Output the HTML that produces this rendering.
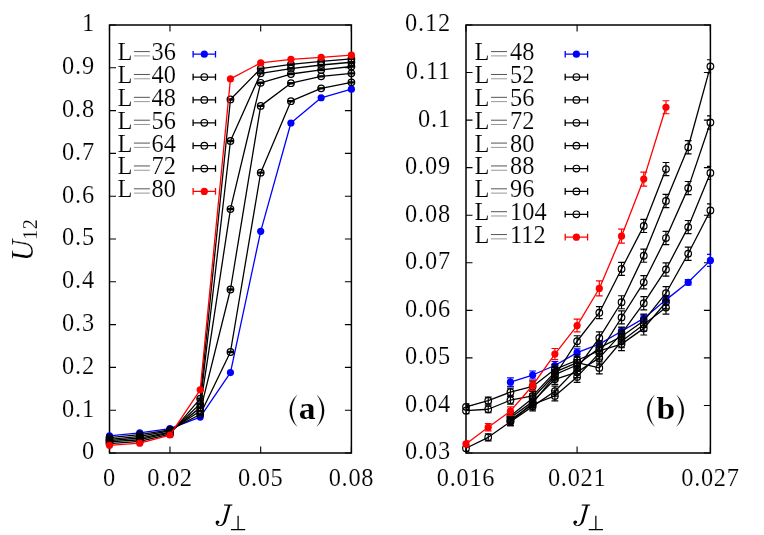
<!DOCTYPE html>
<html><head><meta charset="utf-8"><title>U12 vs J_perp</title>
<style>
html,body{margin:0;padding:0;background:#fff;}
svg{display:block;font-family:"Liberation Serif", serif;fill:#000;will-change:transform;}
text{stroke:#fff;stroke-width:0.15px;}
</style></head>
<body>
<svg width="764" height="535" viewBox="0 0 764 535">
<rect x="0" y="0" width="764" height="535" fill="#fff"/>
<path d="M109.50,453.00v-6.5M109.50,25.00v6.5" stroke="#000" stroke-width="1.1" fill="none"/>
<path d="M169.97,453.00v-6.5M169.97,25.00v6.5" stroke="#000" stroke-width="1.1" fill="none"/>
<path d="M260.69,453.00v-6.5M260.69,25.00v6.5" stroke="#000" stroke-width="1.1" fill="none"/>
<path d="M351.40,453.00v-6.5M351.40,25.00v6.5" stroke="#000" stroke-width="1.1" fill="none"/>
<path d="M109.50,453.00h6.5M351.40,453.00h-6.5" stroke="#000" stroke-width="1.1" fill="none"/>
<path d="M109.50,410.20h6.5M351.40,410.20h-6.5" stroke="#000" stroke-width="1.1" fill="none"/>
<path d="M109.50,367.40h6.5M351.40,367.40h-6.5" stroke="#000" stroke-width="1.1" fill="none"/>
<path d="M109.50,324.60h6.5M351.40,324.60h-6.5" stroke="#000" stroke-width="1.1" fill="none"/>
<path d="M109.50,281.80h6.5M351.40,281.80h-6.5" stroke="#000" stroke-width="1.1" fill="none"/>
<path d="M109.50,239.00h6.5M351.40,239.00h-6.5" stroke="#000" stroke-width="1.1" fill="none"/>
<path d="M109.50,196.20h6.5M351.40,196.20h-6.5" stroke="#000" stroke-width="1.1" fill="none"/>
<path d="M109.50,153.40h6.5M351.40,153.40h-6.5" stroke="#000" stroke-width="1.1" fill="none"/>
<path d="M109.50,110.60h6.5M351.40,110.60h-6.5" stroke="#000" stroke-width="1.1" fill="none"/>
<path d="M109.50,67.80h6.5M351.40,67.80h-6.5" stroke="#000" stroke-width="1.1" fill="none"/>
<path d="M109.50,25.00h6.5M351.40,25.00h-6.5" stroke="#000" stroke-width="1.1" fill="none"/>
<rect x="109.5" y="25.0" width="241.90" height="428.00" fill="none" stroke="#000" stroke-width="1.5"/>
<text x="109.20" y="486" text-anchor="middle" font-size="24.4" letter-spacing="0">0</text>
<text x="170.02" y="486" text-anchor="middle" font-size="24.4" letter-spacing="0.7">0.02</text>
<text x="260.74" y="486" text-anchor="middle" font-size="24.4" letter-spacing="0.7">0.05</text>
<text x="351.45" y="486" text-anchor="middle" font-size="24.4" letter-spacing="0.7">0.08</text>
<text x="94.30" y="459.40" text-anchor="end" font-size="24.4" letter-spacing="0">0</text>
<text x="95.20" y="416.60" text-anchor="end" font-size="24.4" letter-spacing="0.9">0.1</text>
<text x="95.20" y="373.80" text-anchor="end" font-size="24.4" letter-spacing="0.9">0.2</text>
<text x="95.20" y="331.00" text-anchor="end" font-size="24.4" letter-spacing="0.9">0.3</text>
<text x="95.20" y="288.20" text-anchor="end" font-size="24.4" letter-spacing="0.9">0.4</text>
<text x="95.20" y="245.40" text-anchor="end" font-size="24.4" letter-spacing="0.9">0.5</text>
<text x="95.20" y="202.60" text-anchor="end" font-size="24.4" letter-spacing="0.9">0.6</text>
<text x="95.20" y="159.80" text-anchor="end" font-size="24.4" letter-spacing="0.9">0.7</text>
<text x="95.20" y="117.00" text-anchor="end" font-size="24.4" letter-spacing="0.9">0.8</text>
<text x="95.20" y="74.20" text-anchor="end" font-size="24.4" letter-spacing="0.9">0.9</text>
<text x="94.30" y="31.40" text-anchor="end" font-size="24.4" letter-spacing="0">1</text>
<clipPath id="ca"><rect x="104.5" y="25.0" width="251.89999999999998" height="433.0"/></clipPath>
<g clip-path="url(#ca)">
<path d="M109.50,435.88L139.74,432.88L169.97,428.60L200.21,417.05L230.45,372.54L260.69,231.30L290.92,123.01L321.16,97.76L351.40,89.20" stroke="#0000ff" stroke-width="1.3" fill="none" stroke-linejoin="round"/>
<circle cx="109.50" cy="435.88" r="3.5999999999999996" fill="#0000ff"/>
<circle cx="139.74" cy="432.88" r="3.5999999999999996" fill="#0000ff"/>
<circle cx="169.97" cy="428.60" r="3.5999999999999996" fill="#0000ff"/>
<circle cx="200.21" cy="417.05" r="3.5999999999999996" fill="#0000ff"/>
<circle cx="230.45" cy="372.54" r="3.5999999999999996" fill="#0000ff"/>
<circle cx="260.69" cy="231.30" r="3.5999999999999996" fill="#0000ff"/>
<circle cx="290.92" cy="123.01" r="3.5999999999999996" fill="#0000ff"/>
<circle cx="321.16" cy="97.76" r="3.5999999999999996" fill="#0000ff"/>
<circle cx="351.40" cy="89.20" r="3.5999999999999996" fill="#0000ff"/>
<path d="M109.50,437.59L139.74,434.60L169.97,429.89L200.21,414.48L230.45,351.99L260.69,172.66L290.92,101.18L321.16,88.34L351.40,82.35" stroke="#000000" stroke-width="1.3" fill="none" stroke-linejoin="round"/>
<path d="M109.50,436.99V438.19M106.10,436.99h6.8M106.10,438.19h6.8" stroke="#000000" stroke-width="1.2" fill="none"/><circle cx="109.50" cy="437.59" r="3.3" fill="none" stroke="#000000" stroke-width="1.2"/>
<path d="M139.74,434.00V435.20M136.34,434.00h6.8M136.34,435.20h6.8" stroke="#000000" stroke-width="1.2" fill="none"/><circle cx="139.74" cy="434.60" r="3.3" fill="none" stroke="#000000" stroke-width="1.2"/>
<path d="M169.97,429.29V430.49M166.57,429.29h6.8M166.57,430.49h6.8" stroke="#000000" stroke-width="1.2" fill="none"/><circle cx="169.97" cy="429.89" r="3.3" fill="none" stroke="#000000" stroke-width="1.2"/>
<path d="M200.21,413.88V415.08M196.81,413.88h6.8M196.81,415.08h6.8" stroke="#000000" stroke-width="1.2" fill="none"/><circle cx="200.21" cy="414.48" r="3.3" fill="none" stroke="#000000" stroke-width="1.2"/>
<path d="M230.45,351.39V352.59M227.05,351.39h6.8M227.05,352.59h6.8" stroke="#000000" stroke-width="1.2" fill="none"/><circle cx="230.45" cy="351.99" r="3.3" fill="none" stroke="#000000" stroke-width="1.2"/>
<path d="M260.69,172.06V173.26M257.29,172.06h6.8M257.29,173.26h6.8" stroke="#000000" stroke-width="1.2" fill="none"/><circle cx="260.69" cy="172.66" r="3.3" fill="none" stroke="#000000" stroke-width="1.2"/>
<path d="M290.92,100.58V101.78M287.52,100.58h6.8M287.52,101.78h6.8" stroke="#000000" stroke-width="1.2" fill="none"/><circle cx="290.92" cy="101.18" r="3.3" fill="none" stroke="#000000" stroke-width="1.2"/>
<path d="M321.16,87.74V88.94M317.76,87.74h6.8M317.76,88.94h6.8" stroke="#000000" stroke-width="1.2" fill="none"/><circle cx="321.16" cy="88.34" r="3.3" fill="none" stroke="#000000" stroke-width="1.2"/>
<path d="M351.40,81.75V82.95M348.00,81.75h6.8M348.00,82.95h6.8" stroke="#000000" stroke-width="1.2" fill="none"/><circle cx="351.40" cy="82.35" r="3.3" fill="none" stroke="#000000" stroke-width="1.2"/>
<path d="M109.50,439.30L139.74,436.31L169.97,430.74L200.21,411.06L230.45,289.50L260.69,105.89L290.92,83.21L321.16,76.36L351.40,73.36" stroke="#000000" stroke-width="1.3" fill="none" stroke-linejoin="round"/>
<path d="M109.50,438.70V439.90M106.10,438.70h6.8M106.10,439.90h6.8" stroke="#000000" stroke-width="1.2" fill="none"/><circle cx="109.50" cy="439.30" r="3.3" fill="none" stroke="#000000" stroke-width="1.2"/>
<path d="M139.74,435.71V436.91M136.34,435.71h6.8M136.34,436.91h6.8" stroke="#000000" stroke-width="1.2" fill="none"/><circle cx="139.74" cy="436.31" r="3.3" fill="none" stroke="#000000" stroke-width="1.2"/>
<path d="M169.97,430.14V431.34M166.57,430.14h6.8M166.57,431.34h6.8" stroke="#000000" stroke-width="1.2" fill="none"/><circle cx="169.97" cy="430.74" r="3.3" fill="none" stroke="#000000" stroke-width="1.2"/>
<path d="M200.21,410.46V411.66M196.81,410.46h6.8M196.81,411.66h6.8" stroke="#000000" stroke-width="1.2" fill="none"/><circle cx="200.21" cy="411.06" r="3.3" fill="none" stroke="#000000" stroke-width="1.2"/>
<path d="M230.45,288.90V290.10M227.05,288.90h6.8M227.05,290.10h6.8" stroke="#000000" stroke-width="1.2" fill="none"/><circle cx="230.45" cy="289.50" r="3.3" fill="none" stroke="#000000" stroke-width="1.2"/>
<path d="M260.69,105.29V106.49M257.29,105.29h6.8M257.29,106.49h6.8" stroke="#000000" stroke-width="1.2" fill="none"/><circle cx="260.69" cy="105.89" r="3.3" fill="none" stroke="#000000" stroke-width="1.2"/>
<path d="M290.92,82.61V83.81M287.52,82.61h6.8M287.52,83.81h6.8" stroke="#000000" stroke-width="1.2" fill="none"/><circle cx="290.92" cy="83.21" r="3.3" fill="none" stroke="#000000" stroke-width="1.2"/>
<path d="M321.16,75.76V76.96M317.76,75.76h6.8M317.76,76.96h6.8" stroke="#000000" stroke-width="1.2" fill="none"/><circle cx="321.16" cy="76.36" r="3.3" fill="none" stroke="#000000" stroke-width="1.2"/>
<path d="M351.40,72.76V73.96M348.00,72.76h6.8M348.00,73.96h6.8" stroke="#000000" stroke-width="1.2" fill="none"/><circle cx="351.40" cy="73.36" r="3.3" fill="none" stroke="#000000" stroke-width="1.2"/>
<path d="M109.50,440.59L139.74,438.02L169.97,432.03L200.21,407.63L230.45,209.04L260.69,82.78L290.92,74.01L321.16,69.94L351.40,66.52" stroke="#000000" stroke-width="1.3" fill="none" stroke-linejoin="round"/>
<path d="M109.50,439.99V441.19M106.10,439.99h6.8M106.10,441.19h6.8" stroke="#000000" stroke-width="1.2" fill="none"/><circle cx="109.50" cy="440.59" r="3.3" fill="none" stroke="#000000" stroke-width="1.2"/>
<path d="M139.74,437.42V438.62M136.34,437.42h6.8M136.34,438.62h6.8" stroke="#000000" stroke-width="1.2" fill="none"/><circle cx="139.74" cy="438.02" r="3.3" fill="none" stroke="#000000" stroke-width="1.2"/>
<path d="M169.97,431.43V432.63M166.57,431.43h6.8M166.57,432.63h6.8" stroke="#000000" stroke-width="1.2" fill="none"/><circle cx="169.97" cy="432.03" r="3.3" fill="none" stroke="#000000" stroke-width="1.2"/>
<path d="M200.21,407.03V408.23M196.81,407.03h6.8M196.81,408.23h6.8" stroke="#000000" stroke-width="1.2" fill="none"/><circle cx="200.21" cy="407.63" r="3.3" fill="none" stroke="#000000" stroke-width="1.2"/>
<path d="M230.45,208.44V209.64M227.05,208.44h6.8M227.05,209.64h6.8" stroke="#000000" stroke-width="1.2" fill="none"/><circle cx="230.45" cy="209.04" r="3.3" fill="none" stroke="#000000" stroke-width="1.2"/>
<path d="M260.69,82.18V83.38M257.29,82.18h6.8M257.29,83.38h6.8" stroke="#000000" stroke-width="1.2" fill="none"/><circle cx="260.69" cy="82.78" r="3.3" fill="none" stroke="#000000" stroke-width="1.2"/>
<path d="M290.92,73.41V74.61M287.52,73.41h6.8M287.52,74.61h6.8" stroke="#000000" stroke-width="1.2" fill="none"/><circle cx="290.92" cy="74.01" r="3.3" fill="none" stroke="#000000" stroke-width="1.2"/>
<path d="M321.16,69.34V70.54M317.76,69.34h6.8M317.76,70.54h6.8" stroke="#000000" stroke-width="1.2" fill="none"/><circle cx="321.16" cy="69.94" r="3.3" fill="none" stroke="#000000" stroke-width="1.2"/>
<path d="M351.40,65.92V67.12M348.00,65.92h6.8M348.00,67.12h6.8" stroke="#000000" stroke-width="1.2" fill="none"/><circle cx="351.40" cy="66.52" r="3.3" fill="none" stroke="#000000" stroke-width="1.2"/>
<path d="M109.50,441.87L139.74,439.73L169.97,432.88L200.21,403.78L230.45,140.99L260.69,73.36L290.92,68.66L321.16,65.02L351.40,62.24" stroke="#000000" stroke-width="1.3" fill="none" stroke-linejoin="round"/>
<path d="M109.50,441.27V442.47M106.10,441.27h6.8M106.10,442.47h6.8" stroke="#000000" stroke-width="1.2" fill="none"/><circle cx="109.50" cy="441.87" r="3.3" fill="none" stroke="#000000" stroke-width="1.2"/>
<path d="M139.74,439.13V440.33M136.34,439.13h6.8M136.34,440.33h6.8" stroke="#000000" stroke-width="1.2" fill="none"/><circle cx="139.74" cy="439.73" r="3.3" fill="none" stroke="#000000" stroke-width="1.2"/>
<path d="M169.97,432.28V433.48M166.57,432.28h6.8M166.57,433.48h6.8" stroke="#000000" stroke-width="1.2" fill="none"/><circle cx="169.97" cy="432.88" r="3.3" fill="none" stroke="#000000" stroke-width="1.2"/>
<path d="M200.21,403.18V404.38M196.81,403.18h6.8M196.81,404.38h6.8" stroke="#000000" stroke-width="1.2" fill="none"/><circle cx="200.21" cy="403.78" r="3.3" fill="none" stroke="#000000" stroke-width="1.2"/>
<path d="M230.45,140.39V141.59M227.05,140.39h6.8M227.05,141.59h6.8" stroke="#000000" stroke-width="1.2" fill="none"/><circle cx="230.45" cy="140.99" r="3.3" fill="none" stroke="#000000" stroke-width="1.2"/>
<path d="M260.69,72.76V73.96M257.29,72.76h6.8M257.29,73.96h6.8" stroke="#000000" stroke-width="1.2" fill="none"/><circle cx="260.69" cy="73.36" r="3.3" fill="none" stroke="#000000" stroke-width="1.2"/>
<path d="M290.92,68.06V69.26M287.52,68.06h6.8M287.52,69.26h6.8" stroke="#000000" stroke-width="1.2" fill="none"/><circle cx="290.92" cy="68.66" r="3.3" fill="none" stroke="#000000" stroke-width="1.2"/>
<path d="M321.16,64.42V65.62M317.76,64.42h6.8M317.76,65.62h6.8" stroke="#000000" stroke-width="1.2" fill="none"/><circle cx="321.16" cy="65.02" r="3.3" fill="none" stroke="#000000" stroke-width="1.2"/>
<path d="M351.40,61.64V62.84M348.00,61.64h6.8M348.00,62.84h6.8" stroke="#000000" stroke-width="1.2" fill="none"/><circle cx="351.40" cy="62.24" r="3.3" fill="none" stroke="#000000" stroke-width="1.2"/>
<path d="M109.50,443.58L139.74,441.44L169.97,434.17L200.21,398.64L230.45,99.47L260.69,68.66L290.92,64.38L321.16,61.38L351.40,58.81" stroke="#000000" stroke-width="1.3" fill="none" stroke-linejoin="round"/>
<path d="M109.50,442.98V444.18M106.10,442.98h6.8M106.10,444.18h6.8" stroke="#000000" stroke-width="1.2" fill="none"/><circle cx="109.50" cy="443.58" r="3.3" fill="none" stroke="#000000" stroke-width="1.2"/>
<path d="M139.74,440.84V442.04M136.34,440.84h6.8M136.34,442.04h6.8" stroke="#000000" stroke-width="1.2" fill="none"/><circle cx="139.74" cy="441.44" r="3.3" fill="none" stroke="#000000" stroke-width="1.2"/>
<path d="M169.97,433.57V434.77M166.57,433.57h6.8M166.57,434.77h6.8" stroke="#000000" stroke-width="1.2" fill="none"/><circle cx="169.97" cy="434.17" r="3.3" fill="none" stroke="#000000" stroke-width="1.2"/>
<path d="M200.21,398.04V399.24M196.81,398.04h6.8M196.81,399.24h6.8" stroke="#000000" stroke-width="1.2" fill="none"/><circle cx="200.21" cy="398.64" r="3.3" fill="none" stroke="#000000" stroke-width="1.2"/>
<path d="M230.45,98.87V100.07M227.05,98.87h6.8M227.05,100.07h6.8" stroke="#000000" stroke-width="1.2" fill="none"/><circle cx="230.45" cy="99.47" r="3.3" fill="none" stroke="#000000" stroke-width="1.2"/>
<path d="M260.69,68.06V69.26M257.29,68.06h6.8M257.29,69.26h6.8" stroke="#000000" stroke-width="1.2" fill="none"/><circle cx="260.69" cy="68.66" r="3.3" fill="none" stroke="#000000" stroke-width="1.2"/>
<path d="M290.92,63.78V64.98M287.52,63.78h6.8M287.52,64.98h6.8" stroke="#000000" stroke-width="1.2" fill="none"/><circle cx="290.92" cy="64.38" r="3.3" fill="none" stroke="#000000" stroke-width="1.2"/>
<path d="M321.16,60.78V61.98M317.76,60.78h6.8M317.76,61.98h6.8" stroke="#000000" stroke-width="1.2" fill="none"/><circle cx="321.16" cy="61.38" r="3.3" fill="none" stroke="#000000" stroke-width="1.2"/>
<path d="M351.40,58.21V59.41M348.00,58.21h6.8M348.00,59.41h6.8" stroke="#000000" stroke-width="1.2" fill="none"/><circle cx="351.40" cy="58.81" r="3.3" fill="none" stroke="#000000" stroke-width="1.2"/>
<path d="M109.50,445.30L139.74,443.16L169.97,435.02L200.21,389.87L230.45,78.93L260.69,62.88L290.92,59.37L321.16,57.31L351.40,55.17" stroke="#ff0000" stroke-width="1.3" fill="none" stroke-linejoin="round"/>
<circle cx="109.50" cy="445.30" r="3.5999999999999996" fill="#ff0000"/>
<circle cx="139.74" cy="443.16" r="3.5999999999999996" fill="#ff0000"/>
<circle cx="169.97" cy="435.02" r="3.5999999999999996" fill="#ff0000"/>
<circle cx="200.21" cy="389.87" r="3.5999999999999996" fill="#ff0000"/>
<circle cx="230.45" cy="78.93" r="3.5999999999999996" fill="#ff0000"/>
<circle cx="260.69" cy="62.88" r="3.5999999999999996" fill="#ff0000"/>
<circle cx="290.92" cy="59.37" r="3.5999999999999996" fill="#ff0000"/>
<circle cx="321.16" cy="57.31" r="3.5999999999999996" fill="#ff0000"/>
<circle cx="351.40" cy="55.17" r="3.5999999999999996" fill="#ff0000"/>
</g>
<text x="117.50" y="60.10" font-size="24.4">L</text>
<path d="M133.90,51.60H149.90" stroke="#000" stroke-opacity="0.75" stroke-width="0.9"/>
<path d="M133.90,55.90H149.90" stroke="#000" stroke-opacity="0.45" stroke-width="0.9"/>
<text x="151.60" y="60.10" font-size="24.4">36</text>
<path d="M193.10,54.20H215.50M193.10,50.90v6.6M215.50,50.90v6.6" stroke="#0000ff" stroke-width="1.3" fill="none"/>
<circle cx="204.30" cy="54.20" r="3.5999999999999996" fill="#0000ff"/>
<text x="117.50" y="82.97" font-size="24.4">L</text>
<path d="M133.90,74.47H149.90" stroke="#000" stroke-opacity="0.75" stroke-width="0.9"/>
<path d="M133.90,78.77H149.90" stroke="#000" stroke-opacity="0.45" stroke-width="0.9"/>
<text x="151.60" y="82.97" font-size="24.4">40</text>
<path d="M193.10,77.07H215.50M193.10,73.77v6.6M215.50,73.77v6.6" stroke="#000000" stroke-width="1.3" fill="none"/>
<circle cx="204.30" cy="77.07" r="3.3" fill="#fff" stroke="#000000" stroke-width="1.2"/>
<path d="M201.00,77.07h6.6" stroke="#000000" stroke-width="1.2"/>
<text x="117.50" y="105.84" font-size="24.4">L</text>
<path d="M133.90,97.34H149.90" stroke="#000" stroke-opacity="0.75" stroke-width="0.9"/>
<path d="M133.90,101.64H149.90" stroke="#000" stroke-opacity="0.45" stroke-width="0.9"/>
<text x="151.60" y="105.84" font-size="24.4">48</text>
<path d="M193.10,99.94H215.50M193.10,96.64v6.6M215.50,96.64v6.6" stroke="#000000" stroke-width="1.3" fill="none"/>
<circle cx="204.30" cy="99.94" r="3.3" fill="#fff" stroke="#000000" stroke-width="1.2"/>
<path d="M201.00,99.94h6.6" stroke="#000000" stroke-width="1.2"/>
<text x="117.50" y="128.71" font-size="24.4">L</text>
<path d="M133.90,120.21H149.90" stroke="#000" stroke-opacity="0.75" stroke-width="0.9"/>
<path d="M133.90,124.51H149.90" stroke="#000" stroke-opacity="0.45" stroke-width="0.9"/>
<text x="151.60" y="128.71" font-size="24.4">56</text>
<path d="M193.10,122.81H215.50M193.10,119.51v6.6M215.50,119.51v6.6" stroke="#000000" stroke-width="1.3" fill="none"/>
<circle cx="204.30" cy="122.81" r="3.3" fill="#fff" stroke="#000000" stroke-width="1.2"/>
<path d="M201.00,122.81h6.6" stroke="#000000" stroke-width="1.2"/>
<text x="117.50" y="151.58" font-size="24.4">L</text>
<path d="M133.90,143.08H149.90" stroke="#000" stroke-opacity="0.75" stroke-width="0.9"/>
<path d="M133.90,147.38H149.90" stroke="#000" stroke-opacity="0.45" stroke-width="0.9"/>
<text x="151.60" y="151.58" font-size="24.4">64</text>
<path d="M193.10,145.68H215.50M193.10,142.38v6.6M215.50,142.38v6.6" stroke="#000000" stroke-width="1.3" fill="none"/>
<circle cx="204.30" cy="145.68" r="3.3" fill="#fff" stroke="#000000" stroke-width="1.2"/>
<path d="M201.00,145.68h6.6" stroke="#000000" stroke-width="1.2"/>
<text x="117.50" y="174.45" font-size="24.4">L</text>
<path d="M133.90,165.95H149.90" stroke="#000" stroke-opacity="0.75" stroke-width="0.9"/>
<path d="M133.90,170.25H149.90" stroke="#000" stroke-opacity="0.45" stroke-width="0.9"/>
<text x="151.60" y="174.45" font-size="24.4">72</text>
<path d="M193.10,168.55H215.50M193.10,165.25v6.6M215.50,165.25v6.6" stroke="#000000" stroke-width="1.3" fill="none"/>
<circle cx="204.30" cy="168.55" r="3.3" fill="#fff" stroke="#000000" stroke-width="1.2"/>
<path d="M201.00,168.55h6.6" stroke="#000000" stroke-width="1.2"/>
<text x="117.50" y="197.32" font-size="24.4">L</text>
<path d="M133.90,188.82H149.90" stroke="#000" stroke-opacity="0.75" stroke-width="0.9"/>
<path d="M133.90,193.12H149.90" stroke="#000" stroke-opacity="0.45" stroke-width="0.9"/>
<text x="151.60" y="197.32" font-size="24.4">80</text>
<path d="M193.10,191.42H215.50M193.10,188.12v6.6M215.50,188.12v6.6" stroke="#ff0000" stroke-width="1.3" fill="none"/>
<circle cx="204.30" cy="191.42" r="3.5999999999999996" fill="#ff0000"/>
<path d="M466.00,453.00v-6.5M466.00,25.00v6.5" stroke="#000" stroke-width="1.1" fill="none"/>
<path d="M577.09,453.00v-6.5M577.09,25.00v6.5" stroke="#000" stroke-width="1.1" fill="none"/>
<path d="M710.40,453.00v-6.5M710.40,25.00v6.5" stroke="#000" stroke-width="1.1" fill="none"/>
<path d="M466.00,453.00h6.5M710.40,453.00h-6.5" stroke="#000" stroke-width="1.1" fill="none"/>
<path d="M466.00,405.44h6.5M710.40,405.44h-6.5" stroke="#000" stroke-width="1.1" fill="none"/>
<path d="M466.00,357.89h6.5M710.40,357.89h-6.5" stroke="#000" stroke-width="1.1" fill="none"/>
<path d="M466.00,310.33h6.5M710.40,310.33h-6.5" stroke="#000" stroke-width="1.1" fill="none"/>
<path d="M466.00,262.78h6.5M710.40,262.78h-6.5" stroke="#000" stroke-width="1.1" fill="none"/>
<path d="M466.00,215.22h6.5M710.40,215.22h-6.5" stroke="#000" stroke-width="1.1" fill="none"/>
<path d="M466.00,167.67h6.5M710.40,167.67h-6.5" stroke="#000" stroke-width="1.1" fill="none"/>
<path d="M466.00,120.11h6.5M710.40,120.11h-6.5" stroke="#000" stroke-width="1.1" fill="none"/>
<path d="M466.00,72.56h6.5M710.40,72.56h-6.5" stroke="#000" stroke-width="1.1" fill="none"/>
<path d="M466.00,25.00h6.5M710.40,25.00h-6.5" stroke="#000" stroke-width="1.1" fill="none"/>
<rect x="466.0" y="25.0" width="244.40" height="428.00" fill="none" stroke="#000" stroke-width="1.5"/>
<text x="466.05" y="486" text-anchor="middle" font-size="24.4" letter-spacing="0.7">0.016</text>
<text x="577.14" y="486" text-anchor="middle" font-size="24.4" letter-spacing="0.7">0.021</text>
<text x="710.45" y="486" text-anchor="middle" font-size="24.4" letter-spacing="0.7">0.027</text>
<text x="451.20" y="459.40" text-anchor="end" font-size="24.4" letter-spacing="0.9">0.03</text>
<text x="451.20" y="411.84" text-anchor="end" font-size="24.4" letter-spacing="0.9">0.04</text>
<text x="451.20" y="364.29" text-anchor="end" font-size="24.4" letter-spacing="0.9">0.05</text>
<text x="451.20" y="316.73" text-anchor="end" font-size="24.4" letter-spacing="0.9">0.06</text>
<text x="451.20" y="269.18" text-anchor="end" font-size="24.4" letter-spacing="0.9">0.07</text>
<text x="451.20" y="221.62" text-anchor="end" font-size="24.4" letter-spacing="0.9">0.08</text>
<text x="451.20" y="174.07" text-anchor="end" font-size="24.4" letter-spacing="0.9">0.09</text>
<text x="451.20" y="126.51" text-anchor="end" font-size="24.4" letter-spacing="0.9">0.1</text>
<text x="451.20" y="78.96" text-anchor="end" font-size="24.4" letter-spacing="0.9">0.11</text>
<text x="451.20" y="31.40" text-anchor="end" font-size="24.4" letter-spacing="0.9">0.12</text>
<clipPath id="cb"><rect x="466.0" y="25.0" width="245.15" height="428.0"/></clipPath>
<path d="M510.44,382.14L532.65,375.01L554.87,365.50L577.09,352.66L599.31,344.10L621.53,331.26L643.75,318.42L665.96,299.87L688.18,282.28L710.40,260.40" stroke="#0000ff" stroke-width="1.3" fill="none" stroke-linejoin="round"/>
<path d="M510.44,377.94V386.34M507.04,377.94h6.8M507.04,386.34h6.8" stroke="#0000ff" stroke-width="1.2" fill="none" clip-path="url(#cb)"/><circle cx="510.44" cy="382.14" r="3.5999999999999996" fill="#0000ff"/>
<path d="M532.65,371.01V379.01M529.25,371.01h6.8M529.25,379.01h6.8" stroke="#0000ff" stroke-width="1.2" fill="none" clip-path="url(#cb)"/><circle cx="532.65" cy="375.01" r="3.5999999999999996" fill="#0000ff"/>
<path d="M554.87,361.50V369.50M551.47,361.50h6.8M551.47,369.50h6.8" stroke="#0000ff" stroke-width="1.2" fill="none" clip-path="url(#cb)"/><circle cx="554.87" cy="365.50" r="3.5999999999999996" fill="#0000ff"/>
<path d="M577.09,348.86V356.46M573.69,348.86h6.8M573.69,356.46h6.8" stroke="#0000ff" stroke-width="1.2" fill="none" clip-path="url(#cb)"/><circle cx="577.09" cy="352.66" r="3.5999999999999996" fill="#0000ff"/>
<path d="M599.31,340.50V347.70M595.91,340.50h6.8M595.91,347.70h6.8" stroke="#0000ff" stroke-width="1.2" fill="none" clip-path="url(#cb)"/><circle cx="599.31" cy="344.10" r="3.5999999999999996" fill="#0000ff"/>
<path d="M621.53,327.86V334.66M618.13,327.86h6.8M618.13,334.66h6.8" stroke="#0000ff" stroke-width="1.2" fill="none" clip-path="url(#cb)"/><circle cx="621.53" cy="331.26" r="3.5999999999999996" fill="#0000ff"/>
<path d="M643.75,315.22V321.62M640.35,315.22h6.8M640.35,321.62h6.8" stroke="#0000ff" stroke-width="1.2" fill="none" clip-path="url(#cb)"/><circle cx="643.75" cy="318.42" r="3.5999999999999996" fill="#0000ff"/>
<path d="M665.96,296.87V302.87M662.56,296.87h6.8M662.56,302.87h6.8" stroke="#0000ff" stroke-width="1.2" fill="none" clip-path="url(#cb)"/><circle cx="665.96" cy="299.87" r="3.5999999999999996" fill="#0000ff"/>
<path d="M688.18,279.68V284.88M684.78,279.68h6.8M684.78,284.88h6.8" stroke="#0000ff" stroke-width="1.2" fill="none" clip-path="url(#cb)"/><circle cx="688.18" cy="282.28" r="3.5999999999999996" fill="#0000ff"/>
<path d="M710.40,254.40V266.40M707.00,254.40h6.8M707.00,266.40h6.8" stroke="#0000ff" stroke-width="1.2" fill="none" clip-path="url(#cb)"/><circle cx="710.40" cy="260.40" r="3.5999999999999996" fill="#0000ff"/>
<path d="M466.00,406.87L488.22,400.69L510.44,392.13L532.65,386.42L554.87,369.30L577.09,360.27L599.31,350.76L621.53,344.10L643.75,328.40L665.96,302.25" stroke="#000000" stroke-width="1.3" fill="none" stroke-linejoin="round"/>
<path d="M466.00,403.87V409.87M462.60,403.87h6.8M462.60,409.87h6.8" stroke="#000000" stroke-width="1.2" fill="none" clip-path="url(#cb)"/><circle cx="466.00" cy="406.87" r="3.3" fill="none" stroke="#000000" stroke-width="1.2"/>
<path d="M488.22,397.19V404.19M484.82,397.19h6.8M484.82,404.19h6.8" stroke="#000000" stroke-width="1.2" fill="none" clip-path="url(#cb)"/><circle cx="488.22" cy="400.69" r="3.3" fill="none" stroke="#000000" stroke-width="1.2"/>
<path d="M510.44,388.13V396.13M507.04,388.13h6.8M507.04,396.13h6.8" stroke="#000000" stroke-width="1.2" fill="none" clip-path="url(#cb)"/><circle cx="510.44" cy="392.13" r="3.3" fill="none" stroke="#000000" stroke-width="1.2"/>
<path d="M532.65,381.92V390.92M529.25,381.92h6.8M529.25,390.92h6.8" stroke="#000000" stroke-width="1.2" fill="none" clip-path="url(#cb)"/><circle cx="532.65" cy="386.42" r="3.3" fill="none" stroke="#000000" stroke-width="1.2"/>
<path d="M554.87,364.30V374.30M551.47,364.30h6.8M551.47,374.30h6.8" stroke="#000000" stroke-width="1.2" fill="none" clip-path="url(#cb)"/><circle cx="554.87" cy="369.30" r="3.3" fill="none" stroke="#000000" stroke-width="1.2"/>
<path d="M577.09,354.77V365.77M573.69,354.77h6.8M573.69,365.77h6.8" stroke="#000000" stroke-width="1.2" fill="none" clip-path="url(#cb)"/><circle cx="577.09" cy="360.27" r="3.3" fill="none" stroke="#000000" stroke-width="1.2"/>
<path d="M599.31,344.76V356.76M595.91,344.76h6.8M595.91,356.76h6.8" stroke="#000000" stroke-width="1.2" fill="none" clip-path="url(#cb)"/><circle cx="599.31" cy="350.76" r="3.3" fill="none" stroke="#000000" stroke-width="1.2"/>
<path d="M621.53,337.60V350.60M618.13,337.60h6.8M618.13,350.60h6.8" stroke="#000000" stroke-width="1.2" fill="none" clip-path="url(#cb)"/><circle cx="621.53" cy="344.10" r="3.3" fill="none" stroke="#000000" stroke-width="1.2"/>
<path d="M643.75,321.80V335.00M640.35,321.80h6.8M640.35,335.00h6.8" stroke="#000000" stroke-width="1.2" fill="none" clip-path="url(#cb)"/><circle cx="643.75" cy="328.40" r="3.3" fill="none" stroke="#000000" stroke-width="1.2"/>
<path d="M665.96,295.65V308.85M662.56,295.65h6.8M662.56,308.85h6.8" stroke="#000000" stroke-width="1.2" fill="none" clip-path="url(#cb)"/><circle cx="665.96" cy="302.25" r="3.3" fill="none" stroke="#000000" stroke-width="1.2"/>
<path d="M466.00,410.68L488.22,409.25L510.44,400.21L532.65,395.93L554.87,372.16L577.09,362.64L599.31,367.88L621.53,341.24L643.75,324.60L665.96,307.48" stroke="#000000" stroke-width="1.3" fill="none" stroke-linejoin="round"/>
<path d="M466.00,407.68V413.68M462.60,407.68h6.8M462.60,413.68h6.8" stroke="#000000" stroke-width="1.2" fill="none" clip-path="url(#cb)"/><circle cx="466.00" cy="410.68" r="3.3" fill="none" stroke="#000000" stroke-width="1.2"/>
<path d="M488.22,405.75V412.75M484.82,405.75h6.8M484.82,412.75h6.8" stroke="#000000" stroke-width="1.2" fill="none" clip-path="url(#cb)"/><circle cx="488.22" cy="409.25" r="3.3" fill="none" stroke="#000000" stroke-width="1.2"/>
<path d="M510.44,396.21V404.21M507.04,396.21h6.8M507.04,404.21h6.8" stroke="#000000" stroke-width="1.2" fill="none" clip-path="url(#cb)"/><circle cx="510.44" cy="400.21" r="3.3" fill="none" stroke="#000000" stroke-width="1.2"/>
<path d="M532.65,391.43V400.43M529.25,391.43h6.8M529.25,400.43h6.8" stroke="#000000" stroke-width="1.2" fill="none" clip-path="url(#cb)"/><circle cx="532.65" cy="395.93" r="3.3" fill="none" stroke="#000000" stroke-width="1.2"/>
<path d="M554.87,367.16V377.16M551.47,367.16h6.8M551.47,377.16h6.8" stroke="#000000" stroke-width="1.2" fill="none" clip-path="url(#cb)"/><circle cx="554.87" cy="372.16" r="3.3" fill="none" stroke="#000000" stroke-width="1.2"/>
<path d="M577.09,357.14V368.14M573.69,357.14h6.8M573.69,368.14h6.8" stroke="#000000" stroke-width="1.2" fill="none" clip-path="url(#cb)"/><circle cx="577.09" cy="362.64" r="3.3" fill="none" stroke="#000000" stroke-width="1.2"/>
<path d="M599.31,361.88V373.88M595.91,361.88h6.8M595.91,373.88h6.8" stroke="#000000" stroke-width="1.2" fill="none" clip-path="url(#cb)"/><circle cx="599.31" cy="367.88" r="3.3" fill="none" stroke="#000000" stroke-width="1.2"/>
<path d="M621.53,334.74V347.74M618.13,334.74h6.8M618.13,347.74h6.8" stroke="#000000" stroke-width="1.2" fill="none" clip-path="url(#cb)"/><circle cx="621.53" cy="341.24" r="3.3" fill="none" stroke="#000000" stroke-width="1.2"/>
<path d="M643.75,318.00V331.20M640.35,318.00h6.8M640.35,331.20h6.8" stroke="#000000" stroke-width="1.2" fill="none" clip-path="url(#cb)"/><circle cx="643.75" cy="324.60" r="3.3" fill="none" stroke="#000000" stroke-width="1.2"/>
<path d="M665.96,300.88V314.08M662.56,300.88h6.8M662.56,314.08h6.8" stroke="#000000" stroke-width="1.2" fill="none" clip-path="url(#cb)"/><circle cx="665.96" cy="307.48" r="3.3" fill="none" stroke="#000000" stroke-width="1.2"/>
<path d="M510.44,415.91L532.65,398.31L554.87,374.53L577.09,365.02L599.31,347.90L621.53,336.49L643.75,320.80L665.96,293.21L688.18,253.74L710.40,210.47" stroke="#000000" stroke-width="1.3" fill="none" stroke-linejoin="round"/>
<path d="M510.44,411.91V419.91M507.04,411.91h6.8M507.04,419.91h6.8" stroke="#000000" stroke-width="1.2" fill="none" clip-path="url(#cb)"/><circle cx="510.44" cy="415.91" r="3.3" fill="none" stroke="#000000" stroke-width="1.2"/>
<path d="M532.65,393.81V402.81M529.25,393.81h6.8M529.25,402.81h6.8" stroke="#000000" stroke-width="1.2" fill="none" clip-path="url(#cb)"/><circle cx="532.65" cy="398.31" r="3.3" fill="none" stroke="#000000" stroke-width="1.2"/>
<path d="M554.87,369.53V379.53M551.47,369.53h6.8M551.47,379.53h6.8" stroke="#000000" stroke-width="1.2" fill="none" clip-path="url(#cb)"/><circle cx="554.87" cy="374.53" r="3.3" fill="none" stroke="#000000" stroke-width="1.2"/>
<path d="M577.09,359.52V370.52M573.69,359.52h6.8M573.69,370.52h6.8" stroke="#000000" stroke-width="1.2" fill="none" clip-path="url(#cb)"/><circle cx="577.09" cy="365.02" r="3.3" fill="none" stroke="#000000" stroke-width="1.2"/>
<path d="M599.31,341.90V353.90M595.91,341.90h6.8M595.91,353.90h6.8" stroke="#000000" stroke-width="1.2" fill="none" clip-path="url(#cb)"/><circle cx="599.31" cy="347.90" r="3.3" fill="none" stroke="#000000" stroke-width="1.2"/>
<path d="M621.53,329.99V342.99M618.13,329.99h6.8M618.13,342.99h6.8" stroke="#000000" stroke-width="1.2" fill="none" clip-path="url(#cb)"/><circle cx="621.53" cy="336.49" r="3.3" fill="none" stroke="#000000" stroke-width="1.2"/>
<path d="M643.75,314.20V327.40M640.35,314.20h6.8M640.35,327.40h6.8" stroke="#000000" stroke-width="1.2" fill="none" clip-path="url(#cb)"/><circle cx="643.75" cy="320.80" r="3.3" fill="none" stroke="#000000" stroke-width="1.2"/>
<path d="M665.96,286.61V299.81M662.56,286.61h6.8M662.56,299.81h6.8" stroke="#000000" stroke-width="1.2" fill="none" clip-path="url(#cb)"/><circle cx="665.96" cy="293.21" r="3.3" fill="none" stroke="#000000" stroke-width="1.2"/>
<path d="M688.18,247.14V260.34M684.78,247.14h6.8M684.78,260.34h6.8" stroke="#000000" stroke-width="1.2" fill="none" clip-path="url(#cb)"/><circle cx="688.18" cy="253.74" r="3.3" fill="none" stroke="#000000" stroke-width="1.2"/>
<path d="M710.40,203.87V217.07M707.00,203.87h6.8M707.00,217.07h6.8" stroke="#000000" stroke-width="1.2" fill="none" clip-path="url(#cb)"/><circle cx="710.40" cy="210.47" r="3.3" fill="none" stroke="#000000" stroke-width="1.2"/>
<path d="M510.44,417.81L532.65,401.64L554.87,379.29L577.09,372.16L599.31,357.89L621.53,333.64L643.75,303.20L665.96,269.44L688.18,227.11L710.40,172.90" stroke="#000000" stroke-width="1.3" fill="none" stroke-linejoin="round"/>
<path d="M510.44,413.81V421.81M507.04,413.81h6.8M507.04,421.81h6.8" stroke="#000000" stroke-width="1.2" fill="none" clip-path="url(#cb)"/><circle cx="510.44" cy="417.81" r="3.3" fill="none" stroke="#000000" stroke-width="1.2"/>
<path d="M532.65,397.14V406.14M529.25,397.14h6.8M529.25,406.14h6.8" stroke="#000000" stroke-width="1.2" fill="none" clip-path="url(#cb)"/><circle cx="532.65" cy="401.64" r="3.3" fill="none" stroke="#000000" stroke-width="1.2"/>
<path d="M554.87,374.29V384.29M551.47,374.29h6.8M551.47,384.29h6.8" stroke="#000000" stroke-width="1.2" fill="none" clip-path="url(#cb)"/><circle cx="554.87" cy="379.29" r="3.3" fill="none" stroke="#000000" stroke-width="1.2"/>
<path d="M577.09,366.66V377.66M573.69,366.66h6.8M573.69,377.66h6.8" stroke="#000000" stroke-width="1.2" fill="none" clip-path="url(#cb)"/><circle cx="577.09" cy="372.16" r="3.3" fill="none" stroke="#000000" stroke-width="1.2"/>
<path d="M599.31,351.89V363.89M595.91,351.89h6.8M595.91,363.89h6.8" stroke="#000000" stroke-width="1.2" fill="none" clip-path="url(#cb)"/><circle cx="599.31" cy="357.89" r="3.3" fill="none" stroke="#000000" stroke-width="1.2"/>
<path d="M621.53,327.14V340.14M618.13,327.14h6.8M618.13,340.14h6.8" stroke="#000000" stroke-width="1.2" fill="none" clip-path="url(#cb)"/><circle cx="621.53" cy="333.64" r="3.3" fill="none" stroke="#000000" stroke-width="1.2"/>
<path d="M643.75,296.60V309.80M640.35,296.60h6.8M640.35,309.80h6.8" stroke="#000000" stroke-width="1.2" fill="none" clip-path="url(#cb)"/><circle cx="643.75" cy="303.20" r="3.3" fill="none" stroke="#000000" stroke-width="1.2"/>
<path d="M665.96,262.84V276.04M662.56,262.84h6.8M662.56,276.04h6.8" stroke="#000000" stroke-width="1.2" fill="none" clip-path="url(#cb)"/><circle cx="665.96" cy="269.44" r="3.3" fill="none" stroke="#000000" stroke-width="1.2"/>
<path d="M688.18,220.51V233.71M684.78,220.51h6.8M684.78,233.71h6.8" stroke="#000000" stroke-width="1.2" fill="none" clip-path="url(#cb)"/><circle cx="688.18" cy="227.11" r="3.3" fill="none" stroke="#000000" stroke-width="1.2"/>
<path d="M710.40,166.30V179.50M707.00,166.30h6.8M707.00,179.50h6.8" stroke="#000000" stroke-width="1.2" fill="none" clip-path="url(#cb)"/><circle cx="710.40" cy="172.90" r="3.3" fill="none" stroke="#000000" stroke-width="1.2"/>
<path d="M510.44,419.71L532.65,404.49L554.87,395.93L577.09,376.91L599.31,353.13L621.53,317.47L643.75,282.28L665.96,238.05L688.18,188.12L710.40,122.49" stroke="#000000" stroke-width="1.3" fill="none" stroke-linejoin="round"/>
<path d="M510.44,415.71V423.71M507.04,415.71h6.8M507.04,423.71h6.8" stroke="#000000" stroke-width="1.2" fill="none" clip-path="url(#cb)"/><circle cx="510.44" cy="419.71" r="3.3" fill="none" stroke="#000000" stroke-width="1.2"/>
<path d="M532.65,399.99V408.99M529.25,399.99h6.8M529.25,408.99h6.8" stroke="#000000" stroke-width="1.2" fill="none" clip-path="url(#cb)"/><circle cx="532.65" cy="404.49" r="3.3" fill="none" stroke="#000000" stroke-width="1.2"/>
<path d="M554.87,390.93V400.93M551.47,390.93h6.8M551.47,400.93h6.8" stroke="#000000" stroke-width="1.2" fill="none" clip-path="url(#cb)"/><circle cx="554.87" cy="395.93" r="3.3" fill="none" stroke="#000000" stroke-width="1.2"/>
<path d="M577.09,371.41V382.41M573.69,371.41h6.8M573.69,382.41h6.8" stroke="#000000" stroke-width="1.2" fill="none" clip-path="url(#cb)"/><circle cx="577.09" cy="376.91" r="3.3" fill="none" stroke="#000000" stroke-width="1.2"/>
<path d="M599.31,347.13V359.13M595.91,347.13h6.8M595.91,359.13h6.8" stroke="#000000" stroke-width="1.2" fill="none" clip-path="url(#cb)"/><circle cx="599.31" cy="353.13" r="3.3" fill="none" stroke="#000000" stroke-width="1.2"/>
<path d="M621.53,310.97V323.97M618.13,310.97h6.8M618.13,323.97h6.8" stroke="#000000" stroke-width="1.2" fill="none" clip-path="url(#cb)"/><circle cx="621.53" cy="317.47" r="3.3" fill="none" stroke="#000000" stroke-width="1.2"/>
<path d="M643.75,275.68V288.88M640.35,275.68h6.8M640.35,288.88h6.8" stroke="#000000" stroke-width="1.2" fill="none" clip-path="url(#cb)"/><circle cx="643.75" cy="282.28" r="3.3" fill="none" stroke="#000000" stroke-width="1.2"/>
<path d="M665.96,231.45V244.65M662.56,231.45h6.8M662.56,244.65h6.8" stroke="#000000" stroke-width="1.2" fill="none" clip-path="url(#cb)"/><circle cx="665.96" cy="238.05" r="3.3" fill="none" stroke="#000000" stroke-width="1.2"/>
<path d="M688.18,181.52V194.72M684.78,181.52h6.8M684.78,194.72h6.8" stroke="#000000" stroke-width="1.2" fill="none" clip-path="url(#cb)"/><circle cx="688.18" cy="188.12" r="3.3" fill="none" stroke="#000000" stroke-width="1.2"/>
<path d="M710.40,115.89V129.09M707.00,115.89h6.8M707.00,129.09h6.8" stroke="#000000" stroke-width="1.2" fill="none" clip-path="url(#cb)"/><circle cx="710.40" cy="122.49" r="3.3" fill="none" stroke="#000000" stroke-width="1.2"/>
<path d="M510.44,421.61L532.65,406.40L554.87,391.18L577.09,368.35L599.31,337.92L621.53,302.25L643.75,255.64L665.96,200.96L688.18,147.22L710.40,66.37" stroke="#000000" stroke-width="1.3" fill="none" stroke-linejoin="round"/>
<path d="M510.44,417.61V425.61M507.04,417.61h6.8M507.04,425.61h6.8" stroke="#000000" stroke-width="1.2" fill="none" clip-path="url(#cb)"/><circle cx="510.44" cy="421.61" r="3.3" fill="none" stroke="#000000" stroke-width="1.2"/>
<path d="M532.65,401.90V410.90M529.25,401.90h6.8M529.25,410.90h6.8" stroke="#000000" stroke-width="1.2" fill="none" clip-path="url(#cb)"/><circle cx="532.65" cy="406.40" r="3.3" fill="none" stroke="#000000" stroke-width="1.2"/>
<path d="M554.87,386.18V396.18M551.47,386.18h6.8M551.47,396.18h6.8" stroke="#000000" stroke-width="1.2" fill="none" clip-path="url(#cb)"/><circle cx="554.87" cy="391.18" r="3.3" fill="none" stroke="#000000" stroke-width="1.2"/>
<path d="M577.09,362.85V373.85M573.69,362.85h6.8M573.69,373.85h6.8" stroke="#000000" stroke-width="1.2" fill="none" clip-path="url(#cb)"/><circle cx="577.09" cy="368.35" r="3.3" fill="none" stroke="#000000" stroke-width="1.2"/>
<path d="M599.31,331.92V343.92M595.91,331.92h6.8M595.91,343.92h6.8" stroke="#000000" stroke-width="1.2" fill="none" clip-path="url(#cb)"/><circle cx="599.31" cy="337.92" r="3.3" fill="none" stroke="#000000" stroke-width="1.2"/>
<path d="M621.53,295.75V308.75M618.13,295.75h6.8M618.13,308.75h6.8" stroke="#000000" stroke-width="1.2" fill="none" clip-path="url(#cb)"/><circle cx="621.53" cy="302.25" r="3.3" fill="none" stroke="#000000" stroke-width="1.2"/>
<path d="M643.75,249.04V262.24M640.35,249.04h6.8M640.35,262.24h6.8" stroke="#000000" stroke-width="1.2" fill="none" clip-path="url(#cb)"/><circle cx="643.75" cy="255.64" r="3.3" fill="none" stroke="#000000" stroke-width="1.2"/>
<path d="M665.96,194.36V207.56M662.56,194.36h6.8M662.56,207.56h6.8" stroke="#000000" stroke-width="1.2" fill="none" clip-path="url(#cb)"/><circle cx="665.96" cy="200.96" r="3.3" fill="none" stroke="#000000" stroke-width="1.2"/>
<path d="M688.18,140.62V153.82M684.78,140.62h6.8M684.78,153.82h6.8" stroke="#000000" stroke-width="1.2" fill="none" clip-path="url(#cb)"/><circle cx="688.18" cy="147.22" r="3.3" fill="none" stroke="#000000" stroke-width="1.2"/>
<path d="M710.40,59.77V72.97M707.00,59.77h6.8M707.00,72.97h6.8" stroke="#000000" stroke-width="1.2" fill="none" clip-path="url(#cb)"/><circle cx="710.40" cy="66.37" r="3.3" fill="none" stroke="#000000" stroke-width="1.2"/>
<path d="M466.00,448.24L488.22,437.31L510.44,421.61L532.65,403.07L554.87,375.96L577.09,341.24L599.31,312.71L621.53,268.96L643.75,225.92L665.96,169.09" stroke="#000000" stroke-width="1.3" fill="none" stroke-linejoin="round"/>
<path d="M466.00,445.24V451.24M462.60,445.24h6.8M462.60,451.24h6.8" stroke="#000000" stroke-width="1.2" fill="none" clip-path="url(#cb)"/><circle cx="466.00" cy="448.24" r="3.3" fill="none" stroke="#000000" stroke-width="1.2"/>
<path d="M488.22,433.81V440.81M484.82,433.81h6.8M484.82,440.81h6.8" stroke="#000000" stroke-width="1.2" fill="none" clip-path="url(#cb)"/><circle cx="488.22" cy="437.31" r="3.3" fill="none" stroke="#000000" stroke-width="1.2"/>
<path d="M510.44,417.61V425.61M507.04,417.61h6.8M507.04,425.61h6.8" stroke="#000000" stroke-width="1.2" fill="none" clip-path="url(#cb)"/><circle cx="510.44" cy="421.61" r="3.3" fill="none" stroke="#000000" stroke-width="1.2"/>
<path d="M532.65,398.57V407.57M529.25,398.57h6.8M529.25,407.57h6.8" stroke="#000000" stroke-width="1.2" fill="none" clip-path="url(#cb)"/><circle cx="532.65" cy="403.07" r="3.3" fill="none" stroke="#000000" stroke-width="1.2"/>
<path d="M554.87,370.96V380.96M551.47,370.96h6.8M551.47,380.96h6.8" stroke="#000000" stroke-width="1.2" fill="none" clip-path="url(#cb)"/><circle cx="554.87" cy="375.96" r="3.3" fill="none" stroke="#000000" stroke-width="1.2"/>
<path d="M577.09,335.74V346.74M573.69,335.74h6.8M573.69,346.74h6.8" stroke="#000000" stroke-width="1.2" fill="none" clip-path="url(#cb)"/><circle cx="577.09" cy="341.24" r="3.3" fill="none" stroke="#000000" stroke-width="1.2"/>
<path d="M599.31,306.71V318.71M595.91,306.71h6.8M595.91,318.71h6.8" stroke="#000000" stroke-width="1.2" fill="none" clip-path="url(#cb)"/><circle cx="599.31" cy="312.71" r="3.3" fill="none" stroke="#000000" stroke-width="1.2"/>
<path d="M621.53,262.46V275.46M618.13,262.46h6.8M618.13,275.46h6.8" stroke="#000000" stroke-width="1.2" fill="none" clip-path="url(#cb)"/><circle cx="621.53" cy="268.96" r="3.3" fill="none" stroke="#000000" stroke-width="1.2"/>
<path d="M643.75,219.32V232.52M640.35,219.32h6.8M640.35,232.52h6.8" stroke="#000000" stroke-width="1.2" fill="none" clip-path="url(#cb)"/><circle cx="643.75" cy="225.92" r="3.3" fill="none" stroke="#000000" stroke-width="1.2"/>
<path d="M665.96,162.49V175.69M662.56,162.49h6.8M662.56,175.69h6.8" stroke="#000000" stroke-width="1.2" fill="none" clip-path="url(#cb)"/><circle cx="665.96" cy="169.09" r="3.3" fill="none" stroke="#000000" stroke-width="1.2"/>
<path d="M466.00,443.96L488.22,427.32L510.44,411.15L532.65,385.47L554.87,354.08L577.09,325.55L599.31,288.46L621.53,236.15L643.75,179.08L665.96,107.27" stroke="#ff0000" stroke-width="1.3" fill="none" stroke-linejoin="round"/>
<path d="M466.00,440.96V446.96M462.60,440.96h6.8M462.60,446.96h6.8" stroke="#ff0000" stroke-width="1.2" fill="none" clip-path="url(#cb)"/><circle cx="466.00" cy="443.96" r="3.5999999999999996" fill="#ff0000"/>
<path d="M488.22,423.72V430.92M484.82,423.72h6.8M484.82,430.92h6.8" stroke="#ff0000" stroke-width="1.2" fill="none" clip-path="url(#cb)"/><circle cx="488.22" cy="427.32" r="3.5999999999999996" fill="#ff0000"/>
<path d="M510.44,406.95V415.35M507.04,406.95h6.8M507.04,415.35h6.8" stroke="#ff0000" stroke-width="1.2" fill="none" clip-path="url(#cb)"/><circle cx="510.44" cy="411.15" r="3.5999999999999996" fill="#ff0000"/>
<path d="M532.65,380.47V390.47M529.25,380.47h6.8M529.25,390.47h6.8" stroke="#ff0000" stroke-width="1.2" fill="none" clip-path="url(#cb)"/><circle cx="532.65" cy="385.47" r="3.5999999999999996" fill="#ff0000"/>
<path d="M554.87,348.48V359.68M551.47,348.48h6.8M551.47,359.68h6.8" stroke="#ff0000" stroke-width="1.2" fill="none" clip-path="url(#cb)"/><circle cx="554.87" cy="354.08" r="3.5999999999999996" fill="#ff0000"/>
<path d="M577.09,319.15V331.95M573.69,319.15h6.8M573.69,331.95h6.8" stroke="#ff0000" stroke-width="1.2" fill="none" clip-path="url(#cb)"/><circle cx="577.09" cy="325.55" r="3.5999999999999996" fill="#ff0000"/>
<path d="M599.31,280.96V295.96M595.91,280.96h6.8M595.91,295.96h6.8" stroke="#ff0000" stroke-width="1.2" fill="none" clip-path="url(#cb)"/><circle cx="599.31" cy="288.46" r="3.5999999999999996" fill="#ff0000"/>
<path d="M621.53,229.15V243.15M618.13,229.15h6.8M618.13,243.15h6.8" stroke="#ff0000" stroke-width="1.2" fill="none" clip-path="url(#cb)"/><circle cx="621.53" cy="236.15" r="3.5999999999999996" fill="#ff0000"/>
<path d="M643.75,172.08V186.08M640.35,172.08h6.8M640.35,186.08h6.8" stroke="#ff0000" stroke-width="1.2" fill="none" clip-path="url(#cb)"/><circle cx="643.75" cy="179.08" r="3.5999999999999996" fill="#ff0000"/>
<path d="M665.96,100.77V113.77M662.56,100.77h6.8M662.56,113.77h6.8" stroke="#ff0000" stroke-width="1.2" fill="none" clip-path="url(#cb)"/><circle cx="665.96" cy="107.27" r="3.5999999999999996" fill="#ff0000"/>
<text x="474.60" y="60.10" font-size="24.4">L</text>
<path d="M491.00,51.60H507.00" stroke="#000" stroke-opacity="0.75" stroke-width="0.9"/>
<path d="M491.00,55.90H507.00" stroke="#000" stroke-opacity="0.45" stroke-width="0.9"/>
<text x="510.00" y="60.10" font-size="24.4">48</text>
<path d="M565.20,54.20H587.60M565.20,50.90v6.6M587.60,50.90v6.6" stroke="#0000ff" stroke-width="1.3" fill="none"/>
<circle cx="576.40" cy="54.20" r="3.5999999999999996" fill="#0000ff"/>
<text x="474.60" y="82.97" font-size="24.4">L</text>
<path d="M491.00,74.47H507.00" stroke="#000" stroke-opacity="0.75" stroke-width="0.9"/>
<path d="M491.00,78.77H507.00" stroke="#000" stroke-opacity="0.45" stroke-width="0.9"/>
<text x="510.00" y="82.97" font-size="24.4">52</text>
<path d="M565.20,77.07H587.60M565.20,73.77v6.6M587.60,73.77v6.6" stroke="#000000" stroke-width="1.3" fill="none"/>
<circle cx="576.40" cy="77.07" r="3.3" fill="#fff" stroke="#000000" stroke-width="1.2"/>
<path d="M573.10,77.07h6.6" stroke="#000000" stroke-width="1.2"/>
<text x="474.60" y="105.84" font-size="24.4">L</text>
<path d="M491.00,97.34H507.00" stroke="#000" stroke-opacity="0.75" stroke-width="0.9"/>
<path d="M491.00,101.64H507.00" stroke="#000" stroke-opacity="0.45" stroke-width="0.9"/>
<text x="510.00" y="105.84" font-size="24.4">56</text>
<path d="M565.20,99.94H587.60M565.20,96.64v6.6M587.60,96.64v6.6" stroke="#000000" stroke-width="1.3" fill="none"/>
<circle cx="576.40" cy="99.94" r="3.3" fill="#fff" stroke="#000000" stroke-width="1.2"/>
<path d="M573.10,99.94h6.6" stroke="#000000" stroke-width="1.2"/>
<text x="474.60" y="128.71" font-size="24.4">L</text>
<path d="M491.00,120.21H507.00" stroke="#000" stroke-opacity="0.75" stroke-width="0.9"/>
<path d="M491.00,124.51H507.00" stroke="#000" stroke-opacity="0.45" stroke-width="0.9"/>
<text x="510.00" y="128.71" font-size="24.4">72</text>
<path d="M565.20,122.81H587.60M565.20,119.51v6.6M587.60,119.51v6.6" stroke="#000000" stroke-width="1.3" fill="none"/>
<circle cx="576.40" cy="122.81" r="3.3" fill="#fff" stroke="#000000" stroke-width="1.2"/>
<path d="M573.10,122.81h6.6" stroke="#000000" stroke-width="1.2"/>
<text x="474.60" y="151.58" font-size="24.4">L</text>
<path d="M491.00,143.08H507.00" stroke="#000" stroke-opacity="0.75" stroke-width="0.9"/>
<path d="M491.00,147.38H507.00" stroke="#000" stroke-opacity="0.45" stroke-width="0.9"/>
<text x="510.00" y="151.58" font-size="24.4">80</text>
<path d="M565.20,145.68H587.60M565.20,142.38v6.6M587.60,142.38v6.6" stroke="#000000" stroke-width="1.3" fill="none"/>
<circle cx="576.40" cy="145.68" r="3.3" fill="#fff" stroke="#000000" stroke-width="1.2"/>
<path d="M573.10,145.68h6.6" stroke="#000000" stroke-width="1.2"/>
<text x="474.60" y="174.45" font-size="24.4">L</text>
<path d="M491.00,165.95H507.00" stroke="#000" stroke-opacity="0.75" stroke-width="0.9"/>
<path d="M491.00,170.25H507.00" stroke="#000" stroke-opacity="0.45" stroke-width="0.9"/>
<text x="510.00" y="174.45" font-size="24.4">88</text>
<path d="M565.20,168.55H587.60M565.20,165.25v6.6M587.60,165.25v6.6" stroke="#000000" stroke-width="1.3" fill="none"/>
<circle cx="576.40" cy="168.55" r="3.3" fill="#fff" stroke="#000000" stroke-width="1.2"/>
<path d="M573.10,168.55h6.6" stroke="#000000" stroke-width="1.2"/>
<text x="474.60" y="197.32" font-size="24.4">L</text>
<path d="M491.00,188.82H507.00" stroke="#000" stroke-opacity="0.75" stroke-width="0.9"/>
<path d="M491.00,193.12H507.00" stroke="#000" stroke-opacity="0.45" stroke-width="0.9"/>
<text x="510.00" y="197.32" font-size="24.4">96</text>
<path d="M565.20,191.42H587.60M565.20,188.12v6.6M587.60,188.12v6.6" stroke="#000000" stroke-width="1.3" fill="none"/>
<circle cx="576.40" cy="191.42" r="3.3" fill="#fff" stroke="#000000" stroke-width="1.2"/>
<path d="M573.10,191.42h6.6" stroke="#000000" stroke-width="1.2"/>
<text x="474.60" y="220.19" font-size="24.4">L</text>
<path d="M491.00,211.69H507.00" stroke="#000" stroke-opacity="0.75" stroke-width="0.9"/>
<path d="M491.00,215.99H507.00" stroke="#000" stroke-opacity="0.45" stroke-width="0.9"/>
<text x="510.00" y="220.19" font-size="24.4">104</text>
<path d="M565.20,214.29H587.60M565.20,210.99v6.6M587.60,210.99v6.6" stroke="#000000" stroke-width="1.3" fill="none"/>
<circle cx="576.40" cy="214.29" r="3.3" fill="#fff" stroke="#000000" stroke-width="1.2"/>
<path d="M573.10,214.29h6.6" stroke="#000000" stroke-width="1.2"/>
<text x="474.60" y="243.06" font-size="24.4">L</text>
<path d="M491.00,234.56H507.00" stroke="#000" stroke-opacity="0.75" stroke-width="0.9"/>
<path d="M491.00,238.86H507.00" stroke="#000" stroke-opacity="0.45" stroke-width="0.9"/>
<text x="510.00" y="243.06" font-size="24.4">112</text>
<path d="M565.20,237.16H587.60M565.20,233.86v6.6M587.60,233.86v6.6" stroke="#ff0000" stroke-width="1.3" fill="none"/>
<circle cx="576.40" cy="237.16" r="3.5999999999999996" fill="#ff0000"/>
<path d="M297.00,394.90C287.20,403.90 287.20,417.40 297.00,426.40C290.10,417.40 290.10,403.90 297.00,394.90Z" fill="#000" stroke="#000" stroke-width="0.15"/>
<text x="298.7" y="418.8" font-size="32" font-weight="bold" transform="translate(298.7,0) scale(1.05,1) translate(-298.7,0)">a</text>
<path d="M316.90,394.90C326.70,403.90 326.70,417.40 316.90,426.40C323.80,417.40 323.80,403.90 316.90,394.90Z" fill="#000" stroke="#000" stroke-width="0.15"/>
<path d="M654.60,394.90C644.60,403.90 644.60,417.40 654.60,426.40C647.50,417.40 647.50,403.90 654.60,394.90Z" fill="#000" stroke="#000" stroke-width="0.15"/>
<text x="656.6" y="419.3" font-size="32" font-weight="bold" transform="translate(656.6,0) scale(1.05,1) translate(-656.6,0)">b</text>
<path d="M676.60,394.90C686.40,403.90 686.40,417.40 676.60,426.40C683.50,417.40 683.50,403.90 676.60,394.90Z" fill="#000" stroke="#000" stroke-width="0.15"/>
<path transform="translate(0.00,0)" d="M224.0,504.6H232.4V505.55L230.25,505.7L226.2,520.6C225.4,524.1 222.6,526.1 219.8,526.1C217.1,526.1 215.6,524.4 215.6,522.6C215.6,521.3 216.5,520.4 217.6,520.4C218.7,520.4 219.4,521.2 219.4,522.1C219.4,523.1 218.6,523.7 217.6,523.7C218.0,524.7 218.9,525.2 219.9,525.2C221.6,525.2 223.0,523.6 223.8,520.6L228.0,505.7L224.0,505.55Z" fill="#000"/>
<path d="M231.00,529.6H245.20M238.10,515.8V529.6" stroke="#000" stroke-width="1.25" fill="none"/>
<path transform="translate(357.75,0)" d="M224.0,504.6H232.4V505.55L230.25,505.7L226.2,520.6C225.4,524.1 222.6,526.1 219.8,526.1C217.1,526.1 215.6,524.4 215.6,522.6C215.6,521.3 216.5,520.4 217.6,520.4C218.7,520.4 219.4,521.2 219.4,522.1C219.4,523.1 218.6,523.7 217.6,523.7C218.0,524.7 218.9,525.2 219.9,525.2C221.6,525.2 223.0,523.6 223.8,520.6L228.0,505.7L224.0,505.55Z" fill="#000"/>
<path d="M588.75,529.6H602.95M595.85,515.8V529.6" stroke="#000" stroke-width="1.25" fill="none"/>
<g transform="translate(32.7,261.0) rotate(-90)"><text x="0" y="0" font-size="32" font-style="italic" transform="scale(0.92,1)">U</text><text x="20.9" y="4.7" font-size="21">12</text></g>
</svg>
</body></html>
